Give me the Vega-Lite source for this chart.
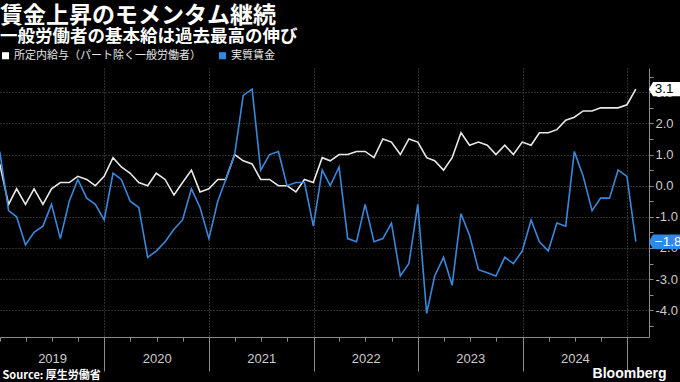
{
  "$schema": "https://vega.github.io/schema/vega-lite/v6.json",
  "width": 649,
  "height": 269,
  "autosize": {"type": "none"},
  "padding": {"left": 0, "top": 68, "right": 31, "bottom": 45},
  "background": "#000000",
  "title": {
    "text": "賃金上昇のモメンタム継続",
    "subtitle": "一般労働者の基本給は過去最高の伸び",
    "anchor": "start",
    "frame": "group",
    "font": "Noto Sans CJK JP",
    "fontSize": 23,
    "fontWeight": "bold",
    "color": "#ffffff",
    "subtitleFont": "Noto Sans CJK JP",
    "subtitleFontSize": 17.5,
    "subtitleFontWeight": "bold",
    "subtitleColor": "#ffffff",
    "subtitlePadding": 0,
    "offset": 5
  },
  "data": {
    "format": {"parse": {"d": "date"}},
    "values": [
      {"d": "2018-12-31", "a": 0.7, "b": 1.1},
      {"d": "2019-01-31", "a": -0.6, "b": -0.8},
      {"d": "2019-02-28", "a": -0.1, "b": -1.0},
      {"d": "2019-03-31", "a": -0.6, "b": -1.9},
      {"d": "2019-04-30", "a": -0.1, "b": -1.5},
      {"d": "2019-05-31", "a": -0.6, "b": -1.3},
      {"d": "2019-06-30", "a": -0.1, "b": -0.6},
      {"d": "2019-07-31", "a": 0.1, "b": -1.7},
      {"d": "2019-08-31", "a": 0.1, "b": -0.5},
      {"d": "2019-09-30", "a": 0.3, "b": 0.2},
      {"d": "2019-10-31", "a": 0.2, "b": -0.4},
      {"d": "2019-11-30", "a": 0.0, "b": -0.6},
      {"d": "2019-12-31", "a": 0.3, "b": -1.1},
      {"d": "2020-01-31", "a": 0.9, "b": 0.4},
      {"d": "2020-02-29", "a": 0.6, "b": 0.2},
      {"d": "2020-03-31", "a": 0.4, "b": -0.5},
      {"d": "2020-04-30", "a": 0.1, "b": -0.7},
      {"d": "2020-05-31", "a": 0.0, "b": -2.3},
      {"d": "2020-06-30", "a": 0.4, "b": -2.1},
      {"d": "2020-07-31", "a": 0.2, "b": -1.8},
      {"d": "2020-08-31", "a": -0.3, "b": -1.4},
      {"d": "2020-09-30", "a": 0.1, "b": -1.1},
      {"d": "2020-10-31", "a": 0.5, "b": -0.1},
      {"d": "2020-11-30", "a": -0.2, "b": -0.7},
      {"d": "2020-12-31", "a": -0.1, "b": -1.7},
      {"d": "2021-01-31", "a": 0.2, "b": -0.5},
      {"d": "2021-02-28", "a": 0.2, "b": 0.2},
      {"d": "2021-03-31", "a": 1.0, "b": 1.0},
      {"d": "2021-04-30", "a": 0.8, "b": 2.9},
      {"d": "2021-05-31", "a": 0.7, "b": 3.1},
      {"d": "2021-06-30", "a": 0.2, "b": 0.5},
      {"d": "2021-07-31", "a": 0.2, "b": 1.0},
      {"d": "2021-08-31", "a": 0.0, "b": 1.1},
      {"d": "2021-09-30", "a": 0.0, "b": 0.0},
      {"d": "2021-10-31", "a": -0.2, "b": 0.1},
      {"d": "2021-11-30", "a": 0.2, "b": 0.1},
      {"d": "2021-12-31", "a": 0.1, "b": -1.3},
      {"d": "2022-01-31", "a": 0.9, "b": 0.5},
      {"d": "2022-02-28", "a": 0.8, "b": 0.0},
      {"d": "2022-03-31", "a": 1.0, "b": 0.6},
      {"d": "2022-04-30", "a": 1.0, "b": -1.7},
      {"d": "2022-05-31", "a": 1.1, "b": -1.8},
      {"d": "2022-06-30", "a": 1.1, "b": -0.6},
      {"d": "2022-07-31", "a": 0.9, "b": -1.8},
      {"d": "2022-08-31", "a": 1.5, "b": -1.7},
      {"d": "2022-09-30", "a": 1.4, "b": -1.2},
      {"d": "2022-10-31", "a": 1.0, "b": -2.9},
      {"d": "2022-11-30", "a": 1.5, "b": -2.5},
      {"d": "2022-12-31", "a": 1.4, "b": -0.6},
      {"d": "2023-01-31", "a": 0.9, "b": -4.1},
      {"d": "2023-02-28", "a": 0.8, "b": -2.9},
      {"d": "2023-03-31", "a": 0.5, "b": -2.3},
      {"d": "2023-04-30", "a": 0.9, "b": -3.2},
      {"d": "2023-05-31", "a": 1.7, "b": -0.9},
      {"d": "2023-06-30", "a": 1.3, "b": -1.6},
      {"d": "2023-07-31", "a": 1.4, "b": -2.7},
      {"d": "2023-08-31", "a": 1.3, "b": -2.8},
      {"d": "2023-09-30", "a": 1.0, "b": -2.9},
      {"d": "2023-10-31", "a": 1.3, "b": -2.3},
      {"d": "2023-11-30", "a": 1.0, "b": -2.5},
      {"d": "2023-12-31", "a": 1.4, "b": -2.1},
      {"d": "2024-01-31", "a": 1.3, "b": -1.1},
      {"d": "2024-02-29", "a": 1.7, "b": -1.8},
      {"d": "2024-03-31", "a": 1.7, "b": -2.1},
      {"d": "2024-04-30", "a": 1.8, "b": -1.2},
      {"d": "2024-05-31", "a": 2.1, "b": -1.3},
      {"d": "2024-06-30", "a": 2.2, "b": 1.1},
      {"d": "2024-07-31", "a": 2.4, "b": 0.3},
      {"d": "2024-08-31", "a": 2.4, "b": -0.8},
      {"d": "2024-09-30", "a": 2.5, "b": -0.4},
      {"d": "2024-10-31", "a": 2.5, "b": -0.4},
      {"d": "2024-11-30", "a": 2.5, "b": 0.5},
      {"d": "2024-12-31", "a": 2.6, "b": 0.3},
      {"d": "2025-01-31", "a": 3.1, "b": -1.8}
    ]
  },
  "transform": [{"fold": ["a", "b"], "as": ["k", "v"]}],
  "layer": [
    {
      "mark": {"type": "line", "strokeWidth": 1.6},
      "encoding": {
        "x": {
          "field": "d",
          "type": "temporal",
          "scale": {"type": "utc", "domain": [{"year": 2019, "month": 1, "date": 1, "utc": true}, {"year": 2025, "month": 3, "date": 18, "utc": true}]},
          "axis": {
            "orient": "bottom",
            "tickCount": 40,
            "values": [
              {"year": 2019, "month": 1, "date": 1, "utc": true}, {"year": 2019, "month": 4, "date": 1, "utc": true}, {"year": 2019, "month": 7, "date": 1, "utc": true}, {"year": 2019, "month": 10, "date": 1, "utc": true},
              {"year": 2020, "month": 1, "date": 1, "utc": true}, {"year": 2020, "month": 4, "date": 1, "utc": true}, {"year": 2020, "month": 7, "date": 1, "utc": true}, {"year": 2020, "month": 10, "date": 1, "utc": true},
              {"year": 2021, "month": 1, "date": 1, "utc": true}, {"year": 2021, "month": 4, "date": 1, "utc": true}, {"year": 2021, "month": 7, "date": 1, "utc": true}, {"year": 2021, "month": 10, "date": 1, "utc": true},
              {"year": 2022, "month": 1, "date": 1, "utc": true}, {"year": 2022, "month": 4, "date": 1, "utc": true}, {"year": 2022, "month": 7, "date": 1, "utc": true}, {"year": 2022, "month": 10, "date": 1, "utc": true},
              {"year": 2023, "month": 1, "date": 1, "utc": true}, {"year": 2023, "month": 4, "date": 1, "utc": true}, {"year": 2023, "month": 7, "date": 1, "utc": true}, {"year": 2023, "month": 10, "date": 1, "utc": true},
              {"year": 2024, "month": 1, "date": 1, "utc": true}, {"year": 2024, "month": 4, "date": 1, "utc": true}, {"year": 2024, "month": 7, "date": 1, "utc": true}, {"year": 2024, "month": 10, "date": 1, "utc": true},
              {"year": 2025, "month": 1, "date": 1, "utc": true}
            ],
            "labels": false,
            "grid": false,
            "ticks": true,
            "tickSize": 4,
            "tickColor": "#8c8c8c",
            "domain": true,
            "domainColor": "#8c8c8c",
            "title": null
          }
        },
        "y": {
          "field": "v",
          "type": "quantitative",
          "scale": {"domain": [-4.86, 3.78], "nice": false, "zero": false},
          "axis": {
            "orient": "right",
            "tickCount": 40,
            "values": [-4.5, -4, -3.5, -3, -2.5, -2, -1.5, -1, -0.5, 0, 0.5, 1, 1.5, 2, 2.5, 3, 3.5],
            "labelExpr": "datum.value % 1 == 0 ? replace(format(datum.value, '.1f'), '−', '-') : ''",
            "grid": true,
            "gridColor": "#5a5a5a",
            "gridDash": [1, 2],
            "gridOpacity": {"condition": {"test": "datum.value % 1 == 0", "value": 1}, "value": 0},
            "tickSize": 4,
            "tickColor": "#8c8c8c",
            "domainColor": "#8c8c8c",
            "labelPadding": 2,
            "labelFont": "Liberation Sans",
            "labelFontSize": 13,
            "labelColor": "#cccccc",
            "labelOverlap": false,
            "labelFlush": false,
            "title": null
          }
        },
        "color": {
          "field": "k",
          "type": "nominal",
          "scale": {"domain": ["a", "b"], "range": ["#e8e8e8", "#3b87da"]},
          "legend": {
            "orient": "top",
            "direction": "horizontal",
            "title": null,
            "labelExpr": "datum.label == 'a' ? '所定内給与（パート除く一般労働者）' : '実質賃金'",
            "labelLimit": 400,
            "symbolType": "square",
            "symbolSize": 50,
            "labelFont": "Noto Sans CJK JP",
            "labelFontSize": 11,
            "labelColor": "#e6e6e6",
            "labelOffset": 3,
            "columnPadding": 16,
            "offset": 7,
            "padding": 0,
            "encode": {"symbols": {"update": {"fill": {"scale": "color", "field": "value"}, "strokeWidth": {"value": 0}}}}
          }
        }
      }
    },
    {
      "transform": [{"filter": "utcyear(datum.d) == 2025"}],
      "mark": {"type": "point", "filled": true, "opacity": 1, "size": 400, "strokeWidth": 0, "shape": "M1.3,0L1.72,-0.72L5.5,-0.72L5.5,0.72L1.72,0.72Z"},
      "encoding": {
        "x": {
          "field": "d",
          "type": "temporal",
          "scale": {"type": "utc", "domain": [{"year": 2019, "month": 1, "date": 1, "utc": true}, {"year": 2025, "month": 3, "date": 18, "utc": true}]},
          "axis": {
            "orient": "bottom",
            "tickCount": 40,
            "values": [
              {"year": 2020, "month": 1, "date": 1, "utc": true}, {"year": 2021, "month": 1, "date": 1, "utc": true}, {"year": 2022, "month": 1, "date": 1, "utc": true},
              {"year": 2023, "month": 1, "date": 1, "utc": true}, {"year": 2024, "month": 1, "date": 1, "utc": true}, {"year": 2025, "month": 1, "date": 1, "utc": true}
            ],
            "labels": false,
            "grid": true,
            "gridColor": "#5a5a5a",
            "gridDash": [1, 2],
            "ticks": true,
            "tickSize": 34,
            "tickColor": "#8c8c8c",
            "domain": false,
            "title": "Bloomberg",
            "titleX": 666,
            "titleY": 36,
            "titleAlign": "right",
            "titleBaseline": "middle",
            "titleAngle": 0,
            "titleFont": "Liberation Sans",
            "titleFontSize": 14,
            "titleFontWeight": "bold",
            "titleColor": "#ffffff"
          }
        },
        "y": {"field": "v", "type": "quantitative", "scale": {"domain": [-4.86, 3.78], "nice": false, "zero": false}},
        "fill": {"field": "k", "type": "nominal", "scale": {"domain": ["a", "b"], "range": ["#ffffff", "#2f8ae6"]}, "legend": null}
      }
    },
    {
      "transform": [{"filter": "utcyear(datum.d) == 2025"}],
      "mark": {"type": "text", "align": "left", "baseline": "middle", "dx": 19, "font": "Liberation Sans", "fontSize": 13.5},
      "encoding": {
        "x": {
          "field": "d",
          "type": "temporal",
          "scale": {"type": "utc", "domain": [{"year": 2019, "month": 1, "date": 1, "utc": true}, {"year": 2025, "month": 3, "date": 18, "utc": true}]},
          "axis": {
            "orient": "bottom",
            "tickCount": 40,
            "values": [
              {"year": 2019, "month": 7, "date": 2, "utc": true}, {"year": 2020, "month": 7, "date": 2, "utc": true}, {"year": 2021, "month": 7, "date": 2, "utc": true},
              {"year": 2022, "month": 7, "date": 2, "utc": true}, {"year": 2023, "month": 7, "date": 2, "utc": true}, {"year": 2024, "month": 7, "date": 2, "utc": true}
            ],
            "labelExpr": "utcFormat(datum.value, '%Y')",
            "ticks": false,
            "tickSize": 0,
            "domain": false,
            "grid": false,
            "labelPadding": 15,
            "labelFont": "Liberation Sans",
            "labelFontSize": 13,
            "labelColor": "#cccccc",
            "labelFlush": false,
            "labelOverlap": false,
            "title": "Source: 厚生労働省",
            "titleX": 2,
            "titleY": 38,
            "titleAlign": "left",
            "titleBaseline": "middle",
            "titleAngle": 0,
            "titleFont": "Noto Sans CJK JP",
            "titleFontSize": 11,
            "titleFontWeight": "bold",
            "titleColor": "#ffffff"
          }
        },
        "y": {"field": "v", "type": "quantitative", "scale": {"domain": [-4.86, 3.78], "nice": false, "zero": false}},
        "text": {"field": "v", "type": "quantitative", "format": ".1f"},
        "color": {"condition": {"test": "datum.k == 'b'", "value": "#ffffff"}, "value": "#000000"}
      }
    }
  ],
  "resolve": {"axis": {"x": "independent"}},
  "config": {"view": {"stroke": null}}
}
